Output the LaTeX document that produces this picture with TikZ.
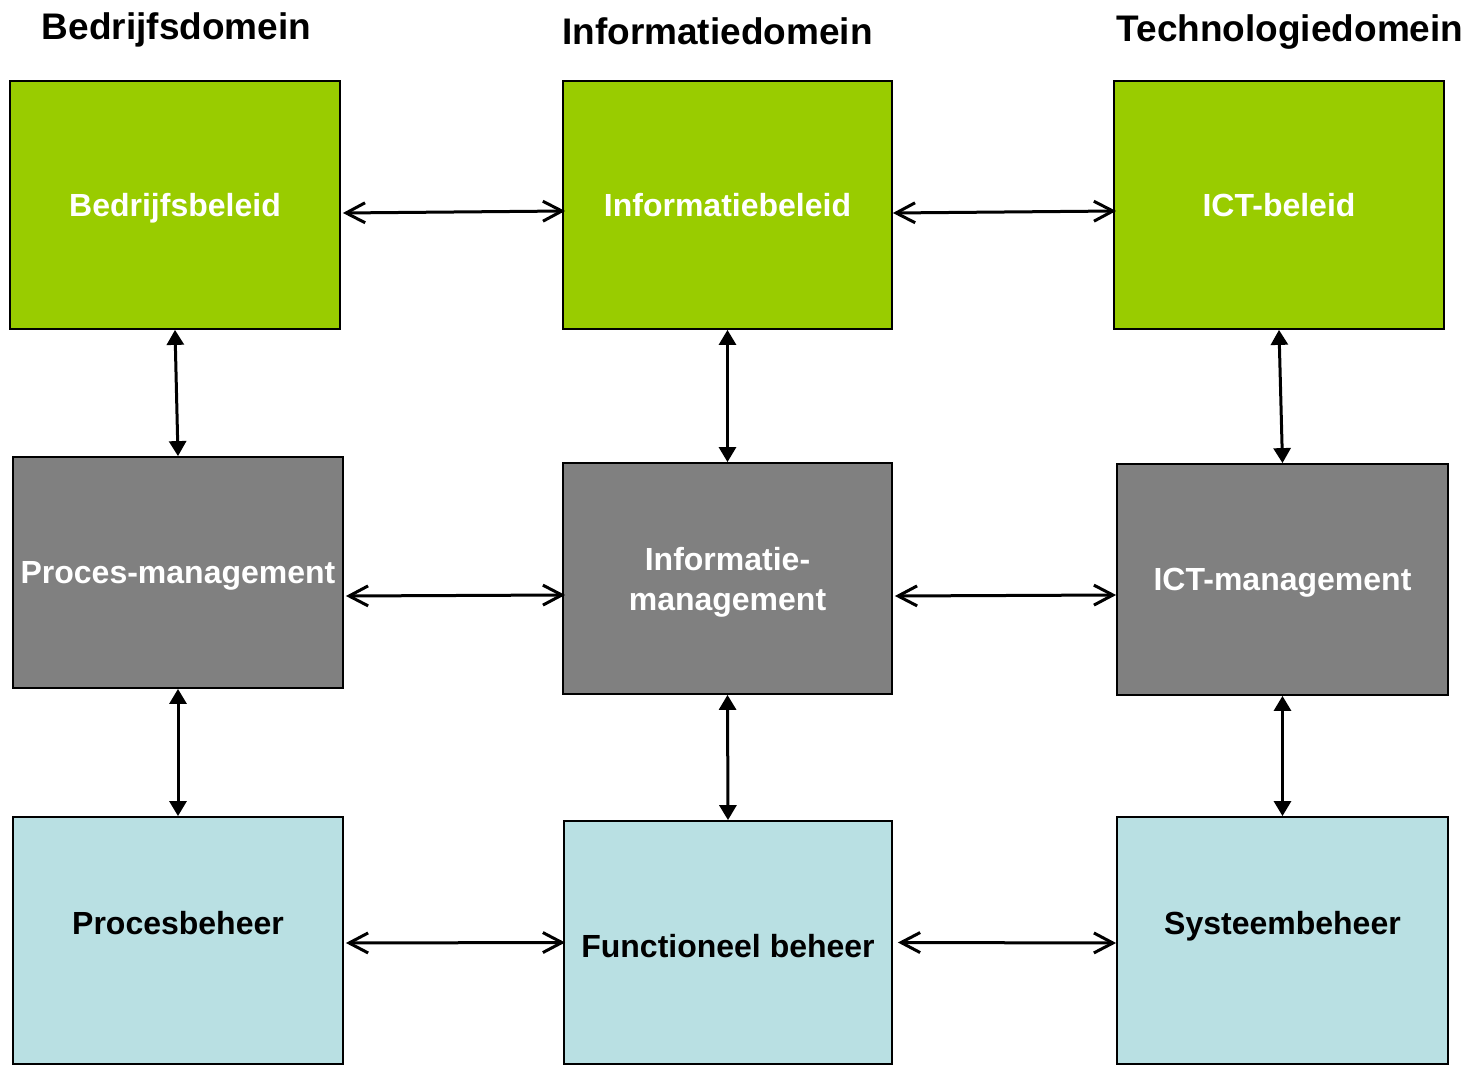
\documentclass[tikz,border=0pt]{standalone}
\usepackage{fontspec}
\setmainfont{Liberation Sans}
\usetikzlibrary{arrows.meta}
\definecolor{beleidkleur}{RGB}{153,204,0}
\definecolor{mgmtkleur}{RGB}{128,128,128}
\definecolor{beheerkleur}{RGB}{185,224,227}

\begin{document}
\begin{tikzpicture}[x=0.5pt,y=-0.5pt,
  box/.style={draw=black,line width=0.9pt,inner sep=0pt,align=center,text depth=0pt,
    minimum width=165pt,font=\bfseries\fontsize{16}{20}\selectfont},
  beleidbox/.style={box,fill=beleidkleur,text=white,minimum height=124pt},
  mgmtbox/.style={box,fill=mgmtkleur,text=white,minimum height=115.5pt},
  beheerbox/.style={box,fill=beheerkleur,text=black},
  boxtext/.style={font=\bfseries\fontsize{16}{20}\selectfont,text=black,text depth=0pt},
  domein/.style={anchor=base,font=\bfseries\fontsize{18.5}{22}\selectfont},
  hpijl/.style={{Straight Barb[length=9.5pt,width=10pt]}-{Straight Barb[length=9.5pt,width=10pt]},line width=1.5pt},
  vpijl/.style={{Triangle[length=7.5pt,width=8.5pt]}-{Triangle[length=7.5pt,width=8.5pt]},line width=1.5pt}]

\useasboundingbox (0,0) rectangle (1474,1065);

% kopjes
\node[domein] (d1) at (176.5,40) {Bedrijfsdomein};
\node[domein] (d2) at (717.5,45) {Informatiedomein};
\node[domein] (d3) at (1290,42) {Technologiedomein};

% beleid
\node[beleidbox] (g1) at (175,205) {Bedrijfsbeleid};
\node[beleidbox,minimum width=164.5pt] (g2) at (727.5,205) {Informatiebeleid};
\node[beleidbox] (g3) at (1279,205) {ICT-beleid};

% management
\node[mgmtbox] (p1) at (178,572.5) {Proces-management};
\node[mgmtbox,minimum width=164.5pt] (p2) at (727.5,578.5) {Informatie-\\management};
\node[mgmtbox,minimum width=165.5pt] (p3) at (1282.5,579.5) {ICT-management};

% beheer
\node[beheerbox,minimum height=123.5pt,
  label={[name=b1t,boxtext,yshift=8.75pt]center:Procesbeheer}] (b1) at (178,940.5) {};
\node[beheerbox,minimum height=121.5pt,minimum width=164pt,
  label={[name=b2t,boxtext,yshift=-1.5pt]center:Functioneel beheer}] (b2) at (728,942.5) {};
\node[beheerbox,minimum height=123.5pt,minimum width=165.5pt,
  label={[name=b3t,boxtext,yshift=8.75pt]center:Systeembeheer}] (b3) at (1282.5,940.5) {};

% horizontaal
\draw[hpijl] ([xshift=1pt,yshift=-4pt]g1.east) -- ([xshift=1.5pt,yshift=-3pt]g2.west);
\draw[hpijl] ([yshift=-4pt]g2.east) -- ([xshift=1.5pt,yshift=-3pt]g3.west);
\draw[hpijl] ([xshift=1pt,yshift=-11.75pt]p1.east) -- ([xshift=1.5pt,yshift=-8.25pt]p2.west);
\draw[hpijl] ([xshift=1pt,yshift=-8.75pt]p2.east) -- ([yshift=-7.75pt]p3.west);
\draw[hpijl] ([xshift=1pt,yshift=-1.25pt]b1.east) -- ([xshift=1pt]b2.west);
\draw[hpijl] ([xshift=2.5pt]b2.east) -- ([yshift=-1.25pt]b3.west);

% verticaal
\draw[vpijl] (g1.south) -- (p1.north);
\draw[vpijl] (g2.south) -- (p2.north);
\draw[vpijl] (g3.south) -- (p3.north);
\draw[vpijl] (p1.south) -- (b1.north);
\draw[vpijl] (p2.south) -- (b2.north);
\draw[vpijl] (p3.south) -- (b3.north);

\end{tikzpicture}
\end{document}
